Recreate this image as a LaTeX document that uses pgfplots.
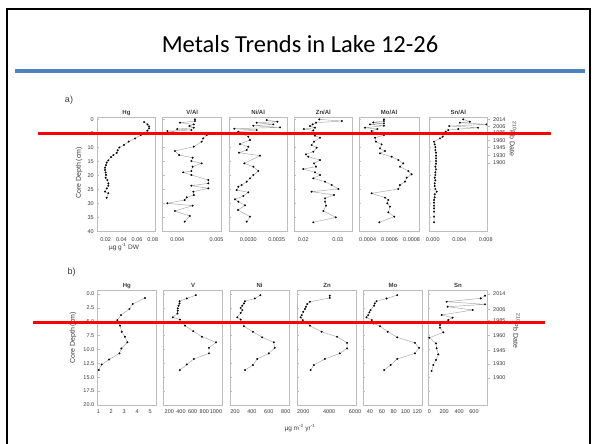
\documentclass[border=0pt]{standalone}
\usepackage{fontspec}
\setmainfont{Liberation Sans}
\newfontfamily\titlefont{Carlito}
\usepackage{pgfplots}
\pgfplotsset{compat=1.18}
\definecolor{slideblue}{HTML}{4F81BD}
\definecolor{boxgray}{HTML}{BDBDBD}
\definecolor{txt}{HTML}{3A3A3A}
\pgfplotsset{
  every axis title shift=0pt,
  prof/.style={
    scale only axis, y dir=reverse,
    axis line style={boxgray, line width=0.7pt},
    xtick style={draw=none},
    ytick style={boxgray, line width=0.5pt},
    major tick length=2pt,
    tick align=inside,
    ytick pos=left, xtick pos=bottom,
    ticklabel style={font=\fontsize{5.5}{6}\selectfont, text=txt},
    title style={at={(0.5,1)}, anchor=base, yshift=3.5pt, inner sep=0pt, font=\bfseries\fontsize{6}{7}\selectfont, text=txt},
    scaled ticks=false,
    anchor=south west,
  },
  pa/.style={prof, height=114pt, ymin=-0.6, ymax=40, ytick={0,5,...,40}, yticklabels={},
    xticklabel style={yshift=-2.5pt}},
  pb/.style={prof, height=115pt, ymin=-0.6, ymax=20.13, ytick={0,2.5,...,20}, yticklabels={}},
  dat/.style={gray!70, line width=0.45pt, mark=*, mark size=0.85pt, mark options={black, fill=black, line width=0.2pt}},
  dates/.style={scale only axis, y dir=reverse, anchor=south west, xmin=0, xmax=1,
    hide x axis, axis y line*=right, axis line style={boxgray, line width=0.7pt},
    ytick style={boxgray, line width=0.5pt}, major tick length=2pt, tick align=outside,
    ticklabel style={font=\fontsize{5.5}{6}\selectfont, text=txt}},
}
\begin{document}
\begin{tikzpicture}
\path[use as bounding box, fill=white] (0,0) rectangle (594pt,-444pt);
% slide frame, title, rule
\draw[black, line width=2pt] (7pt,-446pt) -- (7pt,-9.5pt) -- (590pt,-9.5pt) -- (590pt,-446pt);
\node[font=\titlefont\fontsize{24.5}{29}\selectfont] at (300pt,-44pt) {Metals Trends in Lake 12-26};
\draw[slideblue, line width=3pt] (15pt,-71pt) -- (585pt,-71pt);

% ================= panel a =================
\begin{axis}[pa, at={(97.3pt,-231.7pt)}, width=58.4pt, title={Hg},
  xmin=0.0093, xmax=0.0838, xtick={0.02,0.04,0.06,0.08}, xticklabels={0.02,0.04,0.06,0.08},
  yticklabels={0,5,10,15,20,25,30,35,40}]
\addplot[dat] table {
x y
0.0690 0.95
0.0733 1.8
0.0754 2.5
0.0754 3.2
0.0733 4.0
0.0647 5.6
0.0575 6.8
0.0494 7.9
0.0434 9.1
0.0375 10.0
0.0353 11.0
0.0341 11.9
0.0298 12.7
0.0268 13.4
0.0234 14.6
0.0213 15.4
0.0204 16.3
0.0191 17.2
0.0191 18.0
0.0200 18.9
0.0204 19.8
0.0200 20.8
0.0221 21.6
0.0234 22.8
0.0234 23.6
0.0213 24.6
0.0191 25.7
0.0234 26.3
0.0213 27.9
};
\end{axis}

\begin{axis}[pa, at={(162.7pt,-231.7pt)}, width=59pt, title={V/Al},
  xmin=0.00363, xmax=0.00513, xtick={0.004,0.005}, xticklabels={0.004,0.005}]
\addplot[dat] table {
x y
0.00445 0.0
0.00445 0.59
0.00407 1.19
0.00442 1.78
0.00431 2.37
0.00442 2.97
0.00400 3.44
0.00436 3.80
0.00375 4.15
0.00475 5.58
0.00466 6.76
0.00462 7.95
0.00442 9.73
0.00394 11.27
0.00405 12.69
0.00439 13.64
0.00436 14.83
0.00462 15.66
0.00439 16.84
0.00436 18.39
0.00415 18.86
0.00436 19.81
0.00479 21.59
0.00479 22.78
0.00436 23.61
0.00479 24.56
0.00441 25.74
0.00442 26.93
0.00424 27.76
0.00419 28.71
0.00375 29.89
0.00439 30.72
0.00394 32.62
0.00432 34.40
0.00419 36.42
};
\end{axis}

\begin{axis}[pa, at={(229pt,-231.7pt)}, width=58.3pt, title={Ni/Al},
  xmin=0.002659, xmax=0.003687, xtick={0.003,0.0035}, xticklabels={0.0030,0.0035}]
\addplot[dat] table {
x y
0.003324 0.24
0.003512 0.83
0.003147 1.19
0.003441 1.78
0.003088 2.25
0.003559 2.85
0.002753 3.32
0.003147 3.80
0.002824 4.39
0.003000 6.17
0.003029 7.35
0.002853 8.78
0.003000 9.73
0.002971 10.91
0.002835 11.86
0.003206 12.93
0.002929 15.66
0.003088 16.84
0.003176 18.39
0.003088 19.81
0.003029 21.00
0.002971 22.18
0.002882 23.37
0.002824 23.96
0.002794 25.15
0.003000 25.98
0.002912 27.28
0.002765 28.47
0.002824 29.30
0.002941 30.60
0.002818 32.27
0.003029 34.64
0.002971 36.42
};
\end{axis}

\begin{axis}[pa, at={(294pt,-231.7pt)}, width=58.7pt, title={Zn/Al},
  xmin=0.01732, xmax=0.03432, xtick={0.02,0.03}, xticklabels={0.02,0.03}]
\addplot[dat] table {
x y
0.02466 0.0
0.03117 0.59
0.02369 1.19
0.02272 1.78
0.02194 2.37
0.02340 2.97
0.02019 3.44
0.02291 3.91
0.02194 4.98
0.02340 5.81
0.02485 6.52
0.02311 7.95
0.02243 9.13
0.02388 10.08
0.02291 11.51
0.02078 12.46
0.02146 13.29
0.02485 14.47
0.02311 15.66
0.02369 16.84
0.02000 17.67
0.02340 18.86
0.02485 19.81
0.02291 21.00
0.02631 22.18
0.02825 23.37
0.03019 24.79
0.02243 25.74
0.02893 26.93
0.02631 28.11
0.02631 29.30
0.02660 30.72
0.02583 32.62
0.02942 34.88
0.02291 36.65
};
\end{axis}

\begin{axis}[pa, at={(359.3pt,-231.7pt)}, width=59.7pt, title={Mo/Al},
  xmin=0.000324, xmax=0.000867, xtick={0.0004,0.0006,0.0008}, xticklabels={0.0004,0.0006,0.0008}]
\addplot[dat] table {
x y
0.000548 0.0
0.000548 0.59
0.000452 1.07
0.000548 1.42
0.000421 1.78
0.000548 2.25
0.000376 2.97
0.000488 3.44
0.000436 4.15
0.000548 5.58
0.000467 6.52
0.000476 7.95
0.000527 8.90
0.000512 10.32
0.000558 11.27
0.000512 12.10
0.000618 13.29
0.000679 14.47
0.000724 15.66
0.000694 16.84
0.000770 18.39
0.000800 19.57
0.000755 20.76
0.000739 22.18
0.000694 23.37
0.000679 24.79
0.000436 26.33
0.000558 27.88
0.000588 28.71
0.000579 29.89
0.000603 31.08
0.000588 33.10
0.000642 34.64
0.000506 36.65
};
\end{axis}

\begin{axis}[pa, at={(429pt,-231.7pt)}, width=58.7pt, title={Sn/Al},
  xmin=-0.00056, xmax=0.0083, xtick={0,0.004,0.008}, xticklabels={0.000,0.004,0.008}]
\addplot[dat] table {
x y
0.00460 0.0
0.00560 0.83
0.00410 1.19
0.00810 1.78
0.00250 2.37
0.00685 2.97
0.00385 3.44
0.00235 3.80
0.00195 4.39
0.00160 5.34
0.00150 6.17
0.00110 6.76
0.00020 7.95
0.00030 8.90
0.00040 9.85
0.00040 10.91
0.00050 11.86
0.00050 12.93
0.00050 13.88
0.00050 14.83
0.00050 15.78
0.00040 16.84
0.00050 17.79
0.00040 18.86
0.00040 19.81
0.00030 20.76
0.00040 21.71
0.00030 22.78
0.00030 23.72
0.00040 24.79
0.00060 25.74
0.00030 26.69
0.00030 27.76
0.00020 28.71
0.00020 29.66
0.00020 30.72
0.00020 31.67
0.00020 32.86
0.00020 34.64
0.00020 36.65
};
\end{axis}
\begin{axis}[dates, at={(429pt,-231.7pt)}, width=58.7pt, height=114pt, ymin=-0.6, ymax=40,
  ytick={0,2.4,4.8,7.5,10.1,12.8,15.5}, yticklabels={2014,2006,1985,1960,1945,1930,1900}]
\end{axis}

% ================= panel b =================
\begin{axis}[pb, at={(97.7pt,-405.7pt)}, width=58.3pt, title={Hg},
  xmin=0.95, xmax=5.46, xtick={1,2,3,4,5}, xticklabels={1,2,3,4,5},
  yticklabels={0.0,2.5,5.0,7.5,10.0,12.5,15.0,17.5,20.0}]
\addplot[dat] table {
x y
4.61 0.7
3.66 1.8
3.40 2.7
2.75 3.8
2.47 4.7
2.68 5.7
2.81 6.8
3.06 7.7
3.25 8.7
2.78 9.8
2.63 10.7
1.83 11.8
1.26 12.7
1.03 13.7
};
\end{axis}

\begin{axis}[pb, at={(163.3pt,-405.7pt)}, width=59.4pt, title={V},
  xmin=97, xmax=1115, xtick={200,400,600,800,1000}, xticklabels={200,400,600,800,1000}]
\addplot[dat] table {
x y
655 0.2
500 0.8
375 1.3
375 1.7
360 2.1
345 2.6
345 3.0
340 3.5
260 4.2
380 4.6
470 5.7
610 6.7
760 7.7
1000 8.7
880 9.7
880 10.7
620 11.7
500 12.7
380 13.7
};
\end{axis}

\begin{axis}[pb, at={(230pt,-405.7pt)}, width=59.3pt, title={Ni},
  xmin=141, xmax=842, xtick={200,400,600,800}, xticklabels={200,400,600,800}]
\addplot[dat] table {
x y
500 0.2
435 0.8
318 1.3
306 1.7
286 2.1
267 2.5
286 2.9
267 3.4
227 4.2
267 4.6
306 5.8
412 6.8
521 7.8
659 8.7
670 9.7
600 10.7
463 11.7
412 12.8
318 13.7
};
\end{axis}

\begin{axis}[pb, at={(297.3pt,-405.7pt)}, width=59.4pt, title={Zn},
  xmin=1540, xmax=6130, xtick={2000,4000,6000}, xticklabels={2000,4000,6000}]
\addplot[dat] table {
x y
4050 0.3
4050 0.7
2515 1.4
2308 1.8
2208 2.3
2131 2.7
2000 3.2
1877 3.8
1800 4.2
1954 4.7
2515 5.7
3415 6.8
4615 7.7
5384 8.8
5384 9.8
4823 10.7
3669 11.7
2823 12.8
2569 13.7
};
\end{axis}

\begin{axis}[pb, at={(363.3pt,-405.7pt)}, width=59.4pt, title={Mo},
  xmin=28.7, xmax=129.1, xtick={40,60,80,100,120}, xticklabels={40,60,80,100,120}]
\addplot[dat] table {
x y
86 0.2
68 0.8
51 1.3
48 1.7
47 2.1
41 2.9
39 3.3
37 3.8
34 4.2
43 4.7
46 5.3
57 5.8
70 6.8
86 7.8
116 8.8
123 9.7
116 10.7
86 11.7
75 12.8
64 13.7
};
\end{axis}

\begin{axis}[pb, at={(428.3pt,-405.7pt)}, width=59.4pt, title={Sn},
  xmin=-13.4, xmax=783.6, xtick={0,200,400,600}, xticklabels={0,200,400,600}]
\addplot[dat] table {
x y
747 0.30
689 0.78
233 1.38
747 1.86
246 2.28
582 2.88
166 3.78
313 4.26
255 4.68
143 5.59
143 6.07
188 6.91
0 7.87
89 8.89
98 9.79
121 10.87
89 11.89
54 12.79
31 13.87
};
\end{axis}
\begin{axis}[dates, at={(428.3pt,-405.7pt)}, width=59.4pt, height=115pt, ymin=-0.6, ymax=20.13,
  ytick={0,2.75,4.8,7.5,10.2,12.6,15.1}, yticklabels={2014,2006,1985,1960,1945,1930,1900}]
\end{axis}

% labels
\node[font=\fontsize{9}{10}\selectfont, text=txt] at (69pt,-100pt) {a)};
\node[font=\fontsize{9}{10}\selectfont, text=txt] at (71.7pt,-271.7pt) {b)};
\node[rotate=90, font=\fontsize{7}{8}\selectfont, text=txt] at (79pt,-173pt) {Core Depth (cm)};
\node[rotate=90, font=\fontsize{7}{8}\selectfont, text=txt] at (73pt,-338pt) {Core Depth (cm)};
\node[rotate=-90, font=\fontsize{7}{8}\selectfont, text=txt] at (513pt,-139pt) {\textsuperscript{210}Pb Date};
\node[rotate=-90, font=\fontsize{7}{8}\selectfont, text=txt] at (516.7pt,-331pt) {\textsuperscript{210}Pb Date};
\node[font=\fontsize{6.5}{7}\selectfont, text=txt] at (124pt,-247pt) {µg g\textsuperscript{-1} DW};
\node[font=\fontsize{6.5}{7}\selectfont, text=txt] at (300pt,-428pt) {µg m\textsuperscript{-2} yr\textsuperscript{-1}};

% red highlight lines
\draw[red, line width=3pt] (38pt,-133.3pt) -- (551pt,-133.3pt);
\draw[red, line width=3pt] (33pt,-322.7pt) -- (545pt,-322.7pt);
\end{tikzpicture}
\end{document}
